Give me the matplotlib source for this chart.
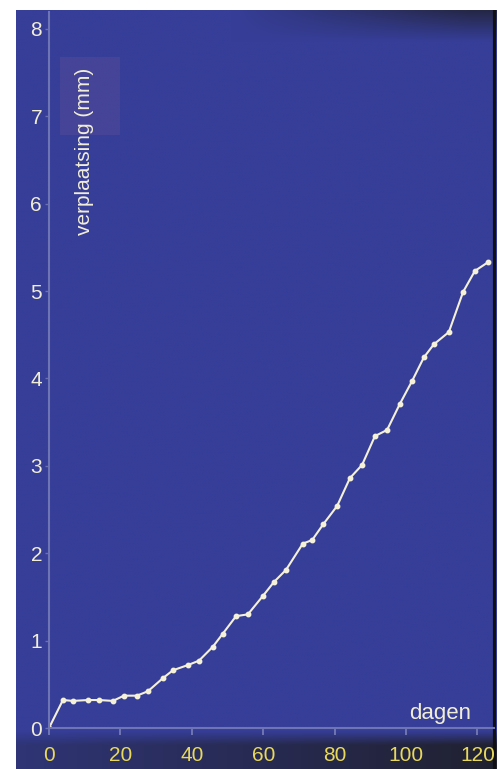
import numpy as np
import matplotlib
matplotlib.use('Agg')
import matplotlib.pyplot as plt
from matplotlib.patches import Rectangle

dagen = [0, 3.9, 6.7, 10.9, 14, 17.9, 21, 24.6, 27.7, 31.9, 34.7, 38.9, 42,
         45.9, 48.7, 52.4, 55.7, 59.9, 63, 66.4, 71.1, 73.7, 76.8, 80.7, 84.3,
         87.7, 91.3, 94.7, 98.3, 101.7, 105, 107.8, 112, 116, 119.3, 123]
verplaatsing = [0, 0.32, 0.31, 0.32, 0.32, 0.31, 0.37, 0.37, 0.42, 0.57, 0.66,
                0.72, 0.77, 0.93, 1.08, 1.28, 1.30, 1.51, 1.67, 1.81, 2.11,
                2.15, 2.33, 2.54, 2.86, 3.01, 3.34, 3.41, 3.71, 3.97, 4.24,
                4.39, 4.53, 4.99, 5.23, 5.33]
x_ticks = [0, 20, 40, 60, 80, 100, 120]
y_ticks = [0, 1, 2, 3, 4, 5, 6, 7, 8]

W, H = 498, 769
blauw = np.array([54, 62, 152]) / 255.0
donker = np.array([30, 30, 36]) / 255.0
lijn = '#f5f0d8'
geel = '#e8d85c'

fig = plt.figure(figsize=(W / 100, H / 100), dpi=100, facecolor='white')

# achtergrond van de foto (blauw, onderrand en rechtsboven donkerder)
bg = fig.add_axes([16 / W, 0, 480 / W, (H - 10) / H])
ny, nx = 300, 160
yy, xx = np.mgrid[0:ny, 0:nx]
yy = yy / (ny - 1)
xx = xx / (nx - 1)
mix = np.zeros((ny, nx))
onder = np.clip((yy - (732 - 10) / (H - 10)) / (14 / (H - 10)), 0, 1)
mix = np.maximum(mix, onder * (0.3 + 0.6 * xx))
boven = np.clip(1 - yy / (30 / (H - 10)), 0, 1) * np.clip((xx - 0.45) * 1.4, 0, 0.7)
mix = np.maximum(mix, boven)
img = blauw[None, None, :] * (1 - mix[..., None]) + donker[None, None, :] * mix[..., None]
bg.imshow(img, aspect='auto', extent=[0, 1, 0, 1], interpolation='bilinear')
bg.axvline(0.997, color='#101010', lw=3)
bg.axis('off')

ax = fig.add_axes([49 / W, (H - 728) / H, (494 - 49) / W, (728 - 12) / H])
ax.set_facecolor('none')
ax.set_xlim(0, (494 - 49) / 3.57)
ax.set_ylim(0, (728 - 12) / 87.4)

ax.plot(dagen, verplaatsing, color=lijn, lw=1.5, marker='o', markersize=3.2,
        markerfacecolor=lijn, markeredgecolor=lijn)

ax.set_xticks(x_ticks)
ax.set_yticks(y_ticks)
ax.tick_params(axis='x', colors='#7a80b8', labelcolor=geel, labelsize=15,
               length=5, width=1.2, direction='out', pad=8)
ax.tick_params(axis='y', colors='#6a70b0', labelcolor='#f2eed6', labelsize=15,
               length=3, width=1.0, direction='out', pad=2)
for t in ax.get_xticklabels() + ax.get_yticklabels():
    t.set_family(['Liberation Sans', 'DejaVu Sans'])

for s in ['top', 'right']:
    ax.spines[s].set_visible(False)
for s in ['left', 'bottom']:
    ax.spines[s].set_color('#6e74b4')
    ax.spines[s].set_linewidth(1.5)

ax.add_patch(Rectangle((3, 6.78), 17, 0.9, facecolor='#a06a9a', alpha=0.15,
                       edgecolor='none'))
ax.text(10, 7.55, 'verplaatsing (mm)', rotation=90, ha='center', va='top',
        color='#f2eed6', fontsize=15, family=['Liberation Sans', 'DejaVu Sans'])
ax.text(109.5, 0.17, 'dagen', ha='center', va='center', color='#f2eed6',
        fontsize=16, family=['Liberation Sans', 'DejaVu Sans'])

fig.savefig('out.png', dpi=100, facecolor='white')
